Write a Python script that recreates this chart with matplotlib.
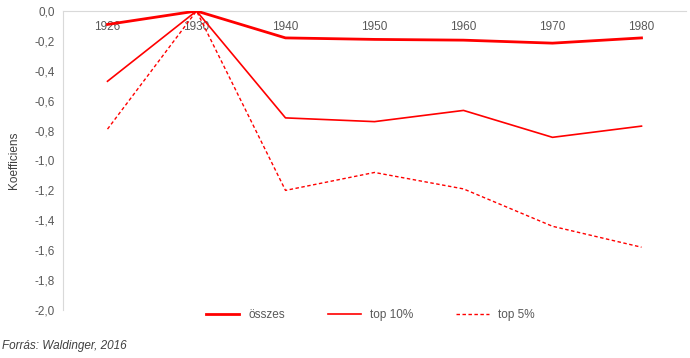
import matplotlib.pyplot as plt
from matplotlib.ticker import FixedLocator

years = ['1926', '1930', '1940', '1950', '1960', '1970', '1980']
osszes = [-0.09, 0.0, -0.18, -0.19, -0.195, -0.215, -0.18]
top10 = [-0.47, 0.0, -0.715, -0.74, -0.665, -0.845, -0.77]
top5 = [-0.79, 0.0, -1.20, -1.08, -1.19, -1.44, -1.58]

plt.rcParams['font.family'] = ['Liberation Sans', 'DejaVu Sans']
grey = '#595959'

fig = plt.figure(figsize=(6.9, 3.58), dpi=100)
ax = fig.add_axes([63/690, 1 - 310/358, 623/690, 299/358])

x = list(range(len(years)))
ax.plot(x, osszes, color='#ff0000', linewidth=2.0, label='összes')
ax.plot(x, top10, color='#ff0000', linewidth=1.2, label='top 10%')
ax.plot(x, top5, color='#ff0000', linewidth=1.0, linestyle=(0, (2.5, 1.8)), label='top 5%')

ax.set_xlim(-0.5, len(years) - 0.5)
ax.set_ylim(-2.0, 0.0)
ax.yaxis.set_major_locator(FixedLocator([0, -0.2, -0.4, -0.6, -0.8, -1.0, -1.2, -1.4, -1.6, -1.8, -2.0]))
ax.set_yticklabels(['{:.1f}'.format(v).replace('.', ',') for v in ax.get_yticks()])
ax.set_xticks(x)
ax.set_xticklabels(years)
ax.xaxis.tick_top()
ax.tick_params(axis='x', length=0, pad=-16, labelsize=8.5, colors=grey)
ax.tick_params(axis='y', length=0, pad=6, labelsize=8.5, colors=grey)
for s in ['right', 'bottom']:
    ax.spines[s].set_visible(False)
ax.spines['top'].set_color('#d9d9d9')
ax.spines['left'].set_color('#d9d9d9')
ax.spines['top'].set_zorder(0)
ax.set_ylabel('Koefficiens', fontsize=8.5, color='#404040', labelpad=2)
ax.yaxis.set_label_coords(-43/623, 0.5)

fig.legend(loc='center', bbox_to_anchor=(0.537, 1 - 315/358), ncol=3, frameon=False,
           fontsize=8.5, handlelength=2.8, columnspacing=3.6, labelcolor=grey)
fig.text(0.003, 1 - 346/358, 'Forrás: Waldinger, 2016', fontsize=8.5, style='italic',
         color='#404040', va='center')

fig.savefig('out.png', dpi=100)
